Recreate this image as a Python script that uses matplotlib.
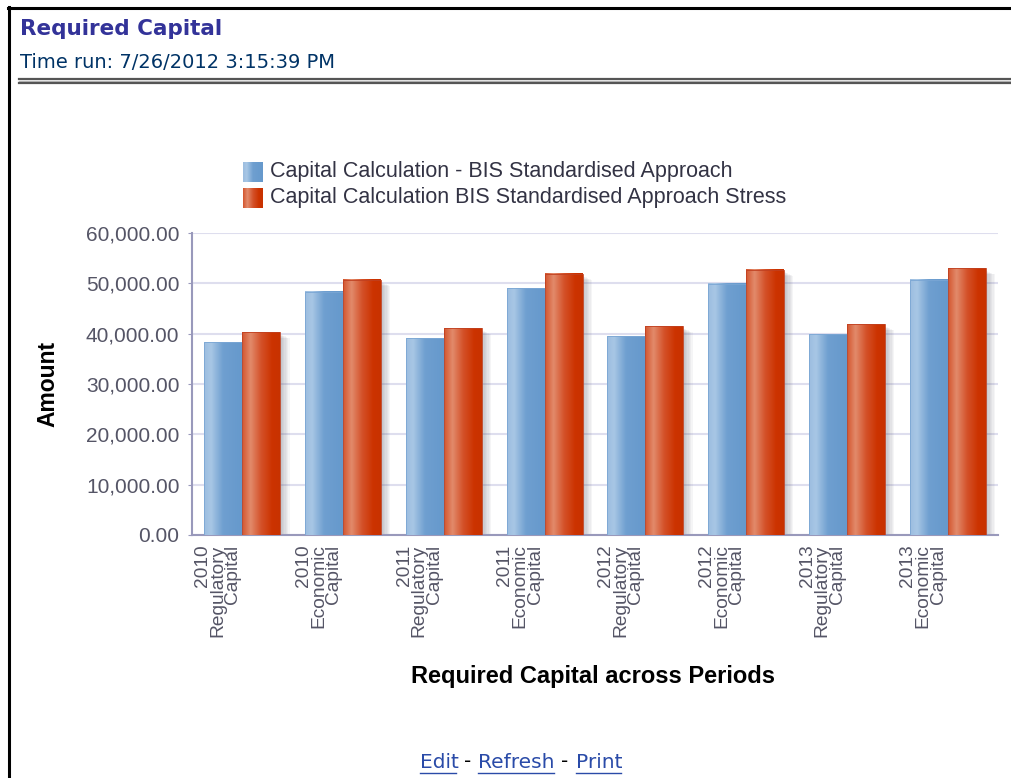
import matplotlib
matplotlib.use("Agg")
import matplotlib.pyplot as plt
import numpy as np
from matplotlib.colors import LinearSegmentedColormap
from matplotlib.patches import Rectangle
from matplotlib.lines import Line2D

categories = ["2010\nRegulatory\nCapital", "2010\nEconomic\nCapital",
              "2011\nRegulatory\nCapital", "2011\nEconomic\nCapital",
              "2012\nRegulatory\nCapital", "2012\nEconomic\nCapital",
              "2013\nRegulatory\nCapital", "2013\nEconomic\nCapital"]
base_values = [38300, 48300, 39100, 49000, 39500, 49900, 39900, 50700]
stress_values = [40300, 50700, 41100, 51900, 41500, 52700, 41900, 53000]
series_names = ["Capital Calculation - BIS Standardised Approach",
                "Capital Calculation BIS Standardised Approach Stress"]
yticks = [0, 10000, 20000, 30000, 40000, 50000, 60000]
ytick_labels = ["0.00", "10,000.00", "20,000.00", "30,000.00",
                "40,000.00", "50,000.00", "60,000.00"]

W, H = 1012, 778
fig = plt.figure(figsize=(W / 100, H / 100), dpi=100)
FONT = "Liberation Sans"

def fx(px):
    return px / W

def fy(py):
    return 1 - py / H

# page border and header
fig.add_artist(Line2D([fx(8.5), fx(8.5)], [fy(7), fy(778)], color="black", lw=2.2))
fig.add_artist(Line2D([fx(8), fx(1012)], [fy(8), fy(8)], color="black", lw=2.2))
fig.add_artist(Line2D([fx(19), fx(1012)], [fy(79), fy(79)], color="#555555", lw=1.6))
fig.add_artist(Line2D([fx(19), fx(1012)], [fy(81), fy(81)], color="#bbbbbb", lw=1.0))
fig.add_artist(Line2D([fx(19), fx(1012)], [fy(83), fy(83)], color="#555555", lw=1.6))
fig.text(fx(20), fy(29), "Required Capital", fontsize=15.5, fontweight="bold",
         color="#333399", family="DejaVu Sans", va="center", ha="left")
fig.text(fx(20), fy(63), "Time run: 7/26/2012 3:15:39 PM", fontsize=14,
         color="#003366", family="DejaVu Sans", va="center", ha="left")

# axes
ax = fig.add_axes([fx(192), fy(535), fx(998) - fx(192), (535 - 233) / H])
n = len(categories)
ax.set_xlim(0, n)
ax.set_ylim(0, 60000)
ax.set_yticks(yticks)
ax.set_yticklabels(ytick_labels, fontsize=15, color="#555566", family=FONT)
ax.tick_params(axis="y", length=3, color="#9999bb", pad=6)
ax.tick_params(axis="x", length=0, pad=6)
for s in ["top", "right"]:
    ax.spines[s].set_visible(False)
for s in ["left", "bottom"]:
    ax.spines[s].set_color("#9999bb")
    ax.spines[s].set_linewidth(1.5)
ax.grid(axis="y", color="#dedeee", lw=1.5)
ax.set_axisbelow(True)

centers = np.arange(n) + 0.5
ax.set_xticks(centers)
ax.set_xticklabels([])
for c, lab in zip(centers, categories):
    ax.text(c - 0.01, -1900, lab, rotation=90, ha="right", va="top",
            multialignment="right", fontsize=13.8, color="#555566",
            family=FONT, linespacing=0.86)

blue_cmap = LinearSegmentedColormap.from_list(
    "b", [(0, "#9cbde0"), (0.18, "#a8c7e5"), (0.5, "#6f9fd0"), (1.0, "#6699cc")])
red_cmap = LinearSegmentedColormap.from_list(
    "r", [(0, "#d4562f"), (0.22, "#e28b6c"), (0.5, "#d4522a"), (0.8, "#cc3300"), (1.0, "#c83200")])
grad = np.linspace(0, 1, 64).reshape(1, -1)
bw = 0.377

def draw_bar(x0, h, cmap, edge):
    ax.imshow(grad, cmap=cmap, aspect="auto", extent=[x0, x0 + bw, 0, h],
              zorder=3, interpolation="bicubic")
    ax.add_patch(Rectangle((x0, 0), bw, h, fill=False, ec=edge, lw=0.6, zorder=4))

for i, c in enumerate(centers):
    # soft shadow to the right of the stress bar
    for k in range(7):
        ax.add_patch(Rectangle((c, 0), bw + 0.015 + k * 0.013,
                               stress_values[i] - 500 - k * 120,
                               color="#5a5a6a", alpha=0.055, lw=0, zorder=2))
    draw_bar(c - bw, base_values[i], blue_cmap, "#7aa6d4")
    draw_bar(c, stress_values[i], red_cmap, "#c04020")

ax.set_xlim(0, n)
ax.set_ylim(0, 60000)

ax.set_ylabel("Amount", fontsize=16.5, fontweight="bold", family=FONT)
ax.yaxis.set_label_coords(-0.165, 0.5)
fig.text(fx(593), fy(677), "Required Capital across Periods", fontsize=17,
         fontweight="bold", family=FONT, ha="center", va="center")

# legend
legend_colors = [blue_cmap, red_cmap]
for j, (name, cm) in enumerate(zip(series_names, legend_colors)):
    yc = 172 + j * 26
    lax = fig.add_axes([fx(243), fy(yc + 10), fx(19), 20 / H])
    lax.imshow(grad, cmap=cm, aspect="auto", extent=[0, 1, 0, 1])
    lax.axis("off")
    fig.text(fx(270), fy(yc), name, fontsize=15.5, color="#333344",
             family=FONT, va="center", ha="left")

# links
link_color = "#2a4ba8"
items = [("Edit", 420, 456, link_color), ("-", 464, 470, "black"),
         ("Refresh", 478, 554, link_color), ("-", 561, 567, "black"),
         ("Print", 576, 621, link_color)]
for txt, x0, x1, col in items:
    fig.text(fx(x0), fy(762), txt, fontsize=14.5, color=col, family="DejaVu Sans",
             va="center", ha="left")
    if txt != "-":
        fig.add_artist(Line2D([fx(x0), fx(x1)], [fy(772.5), fy(772.5)], color=col, lw=1))

fig.savefig("out.png", dpi=100, facecolor="white")
